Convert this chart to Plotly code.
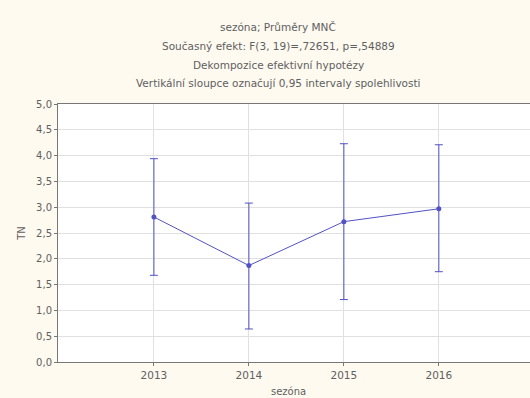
import plotly.graph_objects as go

seasons = [2013, 2014, 2015, 2016]
means = [2.81, 1.87, 2.72, 2.97]
upper = [3.94, 3.08, 4.23, 4.21]
lower = [1.68, 0.64, 1.21, 1.75]
y_ticks = [0.0, 0.5, 1.0, 1.5, 2.0, 2.5, 3.0, 3.5, 4.0, 4.5, 5.0]
y_tick_labels = ["0,0", "0,5", "1,0", "1,5", "2,0", "2,5", "3,0", "3,5", "4,0", "4,5", "5,0"]
title_lines = [
    "sezóna; Průměry MNČ",
    "Současný efekt: F(3, 19)=,72651, p=,54889",
    "Dekompozice efektivní hypotézy",
    "Vertikální sloupce označují 0,95 intervaly spolehlivosti",
]
title_px = [27, 46, 65, 83]

err_plus = [u - m for u, m in zip(upper, means)]
err_minus = [m - l for m, l in zip(means, lower)]

FONT = "DejaVu Sans"
TXT = "#606060"
color = "#5252c4"
fig = go.Figure()
fig.add_trace(go.Scatter(
    x=seasons, y=means, mode="lines+markers",
    line=dict(color=color, width=1),
    marker=dict(color=color, size=5),
    error_y=dict(type="data", symmetric=False, array=err_plus, arrayminus=err_minus,
                 color=color, thickness=1, width=4),
    showlegend=False,
))

for t, py in zip(title_lines, title_px):
    fig.add_annotation(text=t, xref="paper", yref="paper", x=(278 - 58) / 472,
                       y=(362 - py) / 258,
                       showarrow=False, font=dict(size=10.5, color=TXT, family=FONT),
                       xanchor="center", yanchor="middle")

fig.add_annotation(text="sezóna", xref="paper", yref="paper", x=(288 - 58) / 472,
                   y=(362 - 391) / 258, showarrow=False,
                   font=dict(size=10, color=TXT, family=FONT),
                   xanchor="center", yanchor="middle")

fig.update_layout(
    width=530, height=398,
    margin=dict(l=58, r=0, t=104, b=36),
    paper_bgcolor="#fefaf0",
    plot_bgcolor="#ffffff",
    font=dict(family=FONT, size=10, color=TXT),
    xaxis=dict(range=[2011.99, 2016.96], tickvals=seasons, ticktext=[str(s) for s in seasons],
               showgrid=True, gridcolor="#e0e0e0", gridwidth=1,
               showline=True, linecolor="#777777", linewidth=1, mirror=True,
               ticks="outside", ticklen=3, tickcolor="#777777", zeroline=False,
               tickfont=dict(size=10.5)),
    yaxis=dict(range=[0, 5], tickvals=y_ticks, ticktext=y_tick_labels,
               showgrid=True, gridcolor="#e0e0e0", gridwidth=1,
               showline=True, linecolor="#777777", linewidth=1, mirror=True,
               ticks="outside", ticklen=3, tickcolor="#777777", zeroline=False,
               tickfont=dict(size=10),
               title=dict(text="TN", standoff=8, font=dict(size=10))),
)

fig.write_html(
    "out.html",
    config={"displayModeBar": False},
    post_script="document.body.style.margin='0';document.body.style.background='#fefaf0';",
)
